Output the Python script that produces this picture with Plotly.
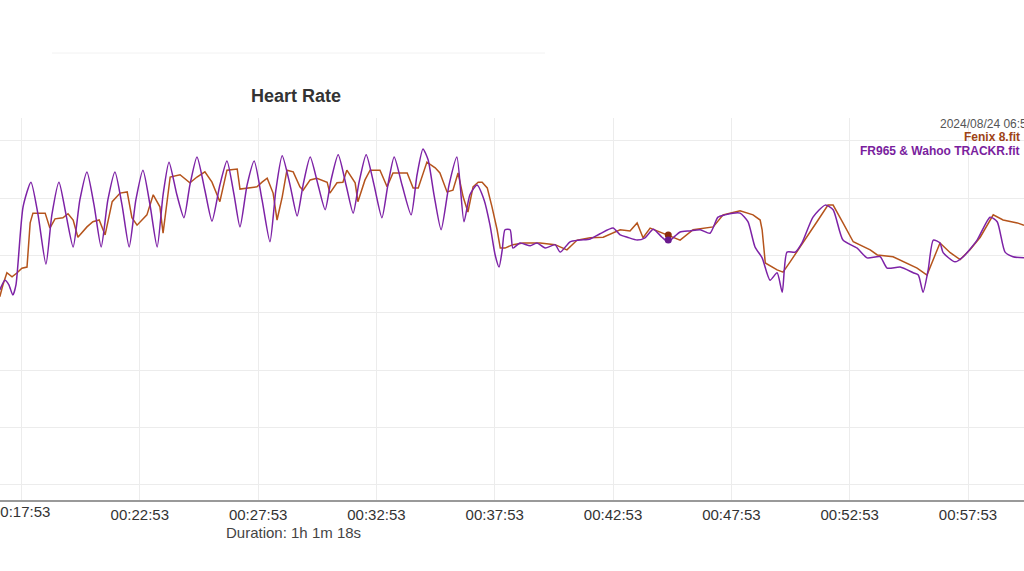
import plotly.graph_objects as go

# elapsed seconds since start, heart rate (bpm)
fr965_t = [1018, 1031, 1041, 1051, 1059, 1077, 1097, 1115, 1135, 1150, 1168, 1186, 1204, 1221, 1239,
           1257, 1275, 1292, 1310, 1328, 1346, 1363, 1381, 1399, 1417, 1432, 1447, 1467, 1485, 1500,
           1518, 1538, 1556, 1576, 1594, 1612, 1627, 1645, 1663, 1683, 1703, 1718, 1734, 1754, 1772,
           1787, 1805, 1825, 1843, 1858, 1876, 1896, 1914, 1929, 1947, 1967, 1987, 2002, 2018, 2038,
           2061, 2076, 2091, 2104, 2119, 2137, 2157, 2177, 2195, 2210, 2228, 2246, 2261, 2274, 2284,
           2292, 2299, 2312, 2319, 2337, 2363, 2380, 2401, 2426, 2439, 2464, 2489, 2515, 2540, 2573,
           2591, 2609, 2634, 2654, 2675, 2697, 2713, 2730, 2743, 2768, 2794, 2819, 2839, 2857, 2877,
           2895, 2915, 2933, 2951, 2971, 2989, 3002, 3014, 3035, 3052, 3080, 3111, 3131, 3156, 3192,
           3217, 3250, 3268, 3301, 3334, 3347, 3359, 3372, 3385, 3402, 3410, 3440, 3461, 3496, 3529,
           3547, 3567, 3587, 3615]
fr965_hr = [144.0, 145.7, 144.9, 143.1, 144.9, 158.5, 162.8, 157.1, 148.5, 157.1, 162.8, 157.1, 151.5, 159.7, 164.6,
            158.8, 151.5, 159.7, 164.6, 158.8, 151.5, 159.7, 164.9, 158.8, 151.5, 160.6, 166.3, 160.6, 156.6, 162.3,
            167.2, 161.4, 156.0, 162.3, 166.5, 160.6, 155.0, 162.3, 166.5, 159.7, 152.4, 161.4, 167.4, 162.3, 156.9,
            162.3, 167.2, 162.3, 158.0, 163.2, 167.6, 162.3, 157.4, 162.8, 167.6, 162.3, 156.6, 162.3, 167.2, 162.3,
            157.1, 164.1, 168.6, 166.7, 160.6, 154.5, 162.3, 167.2, 155.9, 160.6, 162.3, 159.7, 155.3, 150.1, 148.0,
            151.0, 154.5, 154.5, 151.3, 152.2, 151.7, 152.2, 151.3, 151.9, 150.6, 152.4, 152.7, 152.9, 153.8, 154.8,
            153.6, 153.2, 152.7, 153.1, 154.6, 153.2, 152.4, 153.4, 154.1, 154.3, 154.5, 153.9, 156.7, 157.1, 157.4,
            157.4, 155.9, 151.5, 149.6, 145.7, 147.0, 143.6, 150.6, 150.6, 152.2, 156.7, 158.8, 158.0, 152.7, 151.3,
            149.6, 149.8, 147.8, 148.0, 147.0, 146.6, 143.6, 147.5, 152.7, 152.2, 150.5, 148.9, 149.8, 152.7, 156.7,
            155.9, 150.6, 149.8, 149.6]

fenix_t = [1018, 1026, 1036, 1049, 1062, 1074, 1087, 1095, 1102, 1133, 1145, 1158, 1178, 1191, 1204,
           1216, 1239, 1254, 1270, 1285, 1303, 1323, 1341, 1353, 1366, 1391, 1407, 1424, 1432, 1450,
           1475, 1500, 1518, 1538, 1556, 1576, 1594, 1620, 1627, 1670, 1683, 1696, 1711, 1721, 1734,
           1746, 1762, 1779, 1787, 1805, 1822, 1848, 1855, 1873, 1888, 1898, 1919, 1926, 1944, 1957,
           1982, 2000, 2015, 2051, 2066, 2079, 2101, 2122, 2134, 2152, 2167, 2180, 2193, 2205, 2218,
           2231, 2241, 2254, 2266, 2279, 2287, 2299, 2319, 2345, 2388, 2426, 2456, 2482, 2515, 2548,
           2591, 2616, 2634, 2649, 2667, 2692, 2713, 2743, 2776, 2827, 2852, 2895, 2928, 2946, 2951,
           2959, 2989, 3004, 3022, 3055, 3090, 3118, 3131, 3156, 3182, 3225, 3243, 3283, 3309, 3344,
           3369, 3402, 3428, 3453, 3478, 3504, 3537, 3562, 3598, 3615]
fenix_hr = [142.8, 144.9, 147.0, 146.3, 147.0, 147.8, 148.0, 155.7, 157.4, 157.4, 154.8, 156.4, 156.6, 157.3, 156.2,
            153.2, 155.0, 155.9, 156.2, 153.6, 159.4, 160.9, 161.1, 156.6, 155.3, 157.1, 160.6, 158.5, 153.9, 163.7,
            164.1, 162.7, 163.7, 164.6, 162.8, 159.4, 164.9, 165.1, 161.6, 162.0, 162.8, 163.5, 160.9, 156.2, 160.2,
            164.9, 164.6, 162.0, 161.4, 163.2, 163.5, 162.8, 160.9, 162.7, 162.8, 164.9, 162.7, 159.4, 163.2, 164.9,
            164.9, 162.0, 164.4, 164.4, 161.8, 161.8, 166.3, 165.3, 164.4, 161.1, 161.4, 164.4, 160.2, 157.6, 162.0,
            162.8, 162.8, 161.8, 158.5, 154.5, 151.3, 151.3, 151.9, 152.2, 152.2, 151.9, 151.0, 152.7, 153.1, 153.2,
            154.5, 154.3, 155.7, 153.1, 154.8, 154.1, 153.6, 152.7, 154.5, 155.0, 157.1, 157.8, 157.1, 156.2, 154.5,
            148.7, 147.5, 147.1, 148.9, 152.2, 155.9, 158.8, 158.8, 155.7, 152.4, 151.0, 150.1, 149.8, 148.9, 147.8,
            146.6, 152.2, 150.5, 149.3, 151.0, 153.2, 157.1, 156.2, 155.7, 155.3]

cursor_t = 2713
cursor_fenix = 153.6
cursor_fr965 = 152.7

tick_secs = [1073, 1373, 1673, 1973, 2273, 2573, 2873, 3173, 3473]
tick_labels = ["00:17:53", "00:22:53", "00:27:53", "00:32:53", "00:37:53",
               "00:42:53", "00:47:53", "00:52:53", "00:57:53"]
grid_hr = [110, 120, 130, 140, 150, 160, 170]
x_range = [1018.5, 3615]

FENIX = "#b5541c"
FENIX_TXT = "#9e4416"
PURPLE = "#7d22a6"
PURPLE_TXT = "#7a1e9e"
FONT = "Liberation Sans, Arial, sans-serif"

fig = go.Figure()
fig.add_trace(go.Scatter(x=fenix_t, y=fenix_hr, mode="lines", name="Fenix 8.fit",
                         line=dict(color=FENIX, width=1.5)))
fig.add_trace(go.Scatter(x=fr965_t, y=fr965_hr, mode="lines", name="FR965 & Wahoo TRACKR.fit",
                         line=dict(color=PURPLE, width=1.5, shape="spline", smoothing=0.6)))
fig.add_trace(go.Scatter(x=[cursor_t], y=[cursor_fenix], mode="markers",
                         marker=dict(color="#8a2a0a", size=7)))
fig.add_trace(go.Scatter(x=[cursor_t], y=[cursor_fr965], mode="markers",
                         marker=dict(color="#6a1a8e", size=7)))

fig.update_layout(
    width=1024, height=571,
    margin=dict(l=0, r=0, t=118, b=71),
    paper_bgcolor="white", plot_bgcolor="white",
    showlegend=False,
    font=dict(family=FONT, color="#333"),
    xaxis=dict(range=x_range, tickvals=tick_secs, ticktext=tick_labels,
               showgrid=True, gridcolor="#ececec", gridwidth=1,
               showline=True, linecolor="#999", linewidth=1.5,
               ticks="", tickfont=dict(size=15, color="#333"), zeroline=False),
    yaxis=dict(range=[107.35, 174.0], tickvals=grid_hr, showticklabels=False,
               showgrid=True, gridcolor="#ececec", gridwidth=1, zeroline=False,
               showline=False, ticks=""),
)

# first tick label sits at the left edge (partly cut, as in the reference)
fig.add_annotation(text=tick_labels[0], xref="x", yref="paper", x=tick_secs[0], y=-0.031,
                   showarrow=False, font=dict(size=15, color="#333", family=FONT),
                   xanchor="center", yanchor="middle")

fig.add_annotation(text="<b>Heart Rate</b>", xref="paper", yref="paper", x=296/1024, y=1.058,
                   showarrow=False, font=dict(size=18, color="#333", family=FONT),
                   xanchor="center", yanchor="middle")
fig.add_annotation(text="2024/08/24 06:53:12", xref="paper", yref="paper", x=938/1024, y=0.984,
                   showarrow=False, font=dict(size=12, color="#555", family=FONT),
                   xanchor="left", yanchor="middle")
fig.add_annotation(text="<b>Fenix 8.fit</b>", xref="paper", yref="paper", x=1022/1024, y=0.950,
                   showarrow=False, font=dict(size=12, color=FENIX_TXT, family=FONT),
                   xanchor="right", yanchor="middle")
fig.add_annotation(text="<b>FR965 & Wahoo TRACKR.fit</b>", xref="paper", yref="paper", x=1022/1024, y=0.914,
                   showarrow=False, font=dict(size=12, color=PURPLE_TXT, family=FONT),
                   xanchor="right", yanchor="middle")
fig.add_annotation(text="Duration: 1h 1m 18s", xref="paper", yref="paper", x=293.5/1024, y=-0.085,
                   showarrow=False, font=dict(size=15, color="#444", family=FONT),
                   xanchor="center", yanchor="middle")
fig.add_shape(type="line", xref="paper", yref="paper", x0=52/1024, x1=545/1024, y0=1.170, y1=1.170,
              line=dict(color="#f2f2f2", width=1))

fig.write_html("out.html")
